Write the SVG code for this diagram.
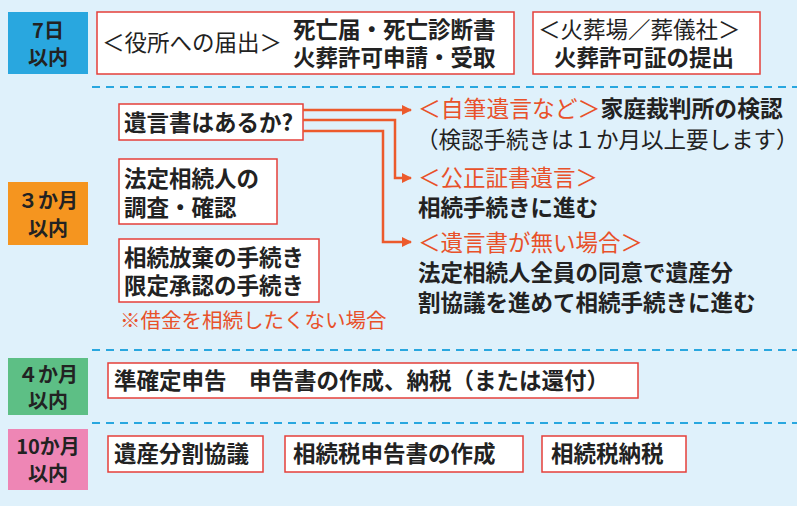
<svg xmlns="http://www.w3.org/2000/svg" width="797" height="506" viewBox="0 0 797 506">
<style>
text{font-family:"Noto Sans CJK JP",sans-serif;font-size:22.5px;fill:#222}
.b{font-weight:bold}
.r{fill:#e8512a}
.box{fill:#fff;stroke:#e53f3a;stroke-width:1.5}
.lab{font-weight:bold;font-size:20px;text-anchor:middle;fill:#222}
.dash{stroke:#29a7df;stroke-width:2;stroke-dasharray:8 6}
.con{fill:none;stroke:#ec5a2c;stroke-width:2.5}
</style>
<defs><marker id="ah" viewBox="0 0 10 10" refX="9" refY="5" markerWidth="4" markerHeight="4" orient="auto"><path d="M0,0L10,5L0,10z" fill="#ec5a2c"/></marker></defs>
<rect width="797" height="506" fill="#dff1fb"/>
<g id="dividers"><line class="dash" x1="92" y1="87" x2="797" y2="87"/><line class="dash" x1="92" y1="350" x2="797" y2="350"/><line class="dash" x1="92" y1="423" x2="797" y2="423"/></g>
<g id="p7"><rect x="8" y="12" width="80" height="62" fill="#29a7df"/><text class="lab" x="48" y="38">7日</text><text class="lab" x="48" y="65">以内</text></g>
<g id="n1"><rect class="box" x="97" y="12" width="417" height="62"/><text x="102" y="51">＜役所への届出＞</text><text class="b" x="293" y="38">死亡届・死亡診断書</text><text class="b" x="293" y="66">火葬許可申請・受取</text></g>
<g id="n2"><rect class="box" x="533" y="12" width="227" height="62"/><text x="538" y="38">＜火葬場／葬儀社＞</text><text class="b" x="554" y="66">火葬許可証の提出</text></g>
<g id="p3"><rect x="8" y="182" width="80" height="63" fill="#f5951f"/><text class="lab" x="48" y="208">３か月</text><text class="lab" x="48" y="236">以内</text></g>
<g id="will"><rect class="box" x="119" y="104" width="184" height="36"/><text class="b" x="124" y="131">遺言書はあるか?</text></g>
<g id="heirs"><rect class="box" x="119" y="159" width="158" height="65"/><text class="b" x="124" y="187">法定相続人の</text><text class="b" x="124" y="216">調査・確認</text></g>
<g id="renounce"><rect class="box" x="119" y="239" width="200" height="63"/><text class="b" x="124" y="266">相続放棄の手続き</text><text class="b" x="124" y="294">限定承認の手続き</text><text class="r" x="120" y="328" style="font-size:20.5px">※借金を相続したくない場合</text></g>
<g id="o1"><text x="418" y="117" style="font-size:22.8px"><tspan class="r">＜自筆遺言など＞</tspan><tspan class="b">家庭裁判所の検認</tspan></text><text x="416" y="148">（検認手続きは１か月以上要します）</text></g>
<g id="o2"><text class="r" x="418" y="186">＜公正証書遺言＞</text><text class="b" x="418" y="216">相続手続きに進む</text></g>
<g id="o3"><text class="r" x="418" y="251">＜遺言書が無い場合＞</text><text class="b" x="418" y="281">法定相続人全員の同意で遺産分</text><text class="b" x="418" y="311">割協議を進めて相続手続きに進む</text></g>
<g id="connectors">
<path class="con" d="M303,110H411" marker-end="url(#ah)"/>
<path class="con" d="M303,120H395V178H411" marker-end="url(#ah)"/>
<path class="con" d="M303,131H383V242H411" marker-end="url(#ah)"/>
</g>
<g id="p4"><rect x="8" y="358" width="80" height="57" fill="#5dbf85"/><text class="lab" x="48" y="382">４か月</text><text class="lab" x="48" y="408">以内</text></g>
<g id="n4"><rect class="box" x="108" y="363" width="530" height="35"/><text class="b" x="114" y="389" xml:space="preserve">準確定申告　申告書の作成、納税（または還付）</text></g>
<g id="p10"><rect x="8" y="429" width="80" height="61" fill="#ee86b5"/><text class="lab" x="48" y="454">10か月</text><text class="lab" x="48" y="481">以内</text></g>
<g id="n10a"><rect class="box" x="108" y="436" width="155" height="36"/><text class="b" x="114" y="462">遺産分割協議</text></g>
<g id="n10b"><rect class="box" x="285" y="436" width="238" height="36"/><text class="b" x="293" y="462">相続税申告書の作成</text></g>
<g id="n10c"><rect class="box" x="542" y="436" width="144" height="36"/><text class="b" x="551" y="462">相続税納税</text></g>
</svg>
